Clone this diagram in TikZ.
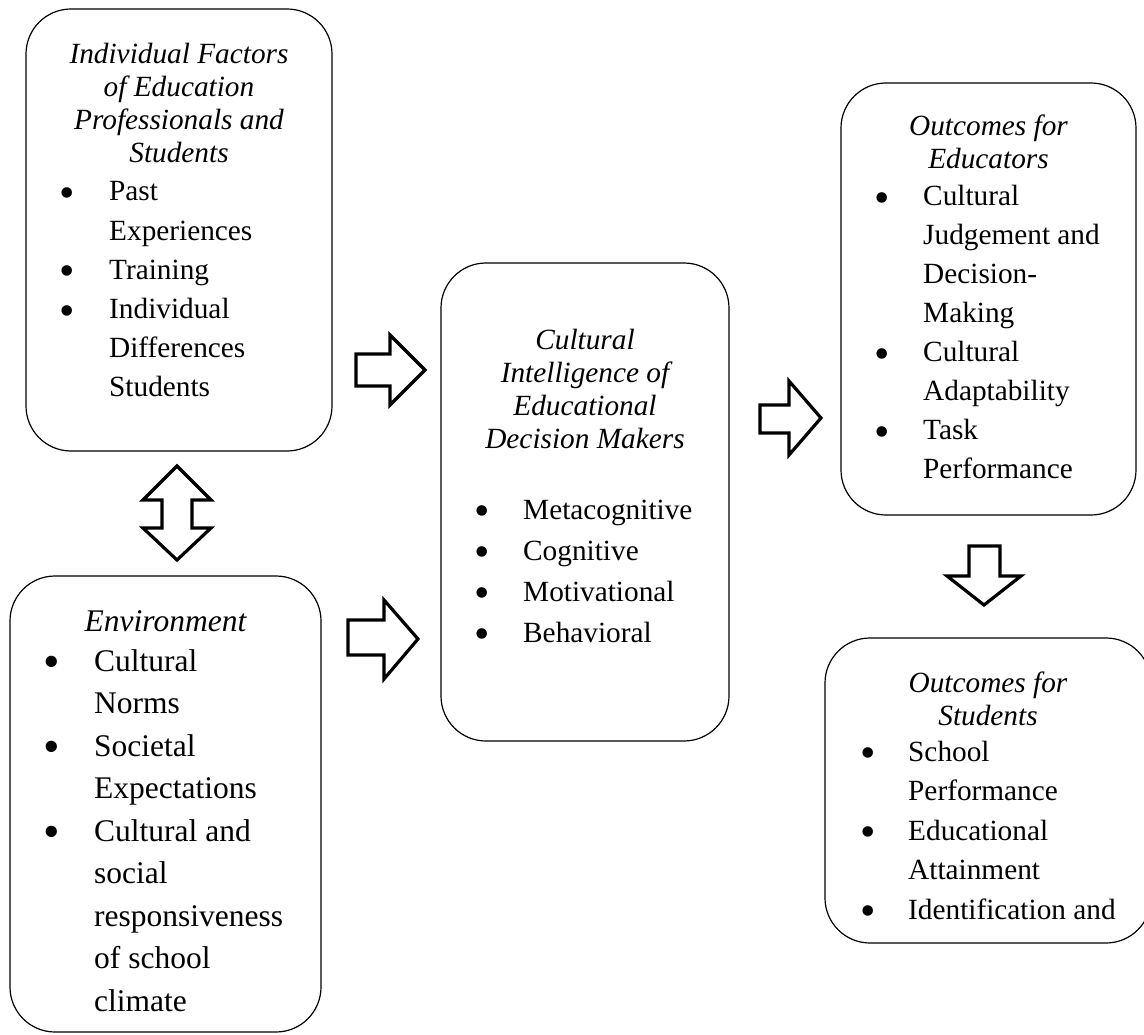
\documentclass[tikz,border=0pt]{standalone}
\usepackage{graphicx}
\usepackage{fontspec}
\setmainfont{Liberation Serif}
\newlength\mybw
\newcommand\mybul{\makebox[\mybw][c]{\raisebox{-6.5pt}{\scalebox{1.5}{\textbullet}}}}
\newcommand\myhd[1]{\parbox[t]{320pt}{\centering #1}}
\begin{document}
\begin{tikzpicture}[x=1pt,y=-1pt,
  box/.style={draw,line width=1.2pt,rounded corners=45pt,inner sep=0pt},
  blk/.style={draw,line width=3.2pt,fill=white,line join=miter},
  hd/.style={inner sep=0pt,anchor=base,font=\fontsize{29.3}{33}\selectfont\itshape},
  hdl/.style={inner sep=0pt,anchor=base,font=\fontsize{31.5}{35}\selectfont\itshape},
  lst/.style={inner sep=0pt,anchor=base west,font=\fontsize{29.3}{39.2}\selectfont},
  lstl/.style={inner sep=0pt,anchor=base west,font=\fontsize{31.5}{42.5}\selectfont}]
\useasboundingbox (0,0) rectangle (1144,1035);
\clip (0,0) rectangle (1144,1035);
\fill[white] (0,0) rectangle (1144,1035);

% boxes
\node[box,minimum width=306pt,minimum height=442pt] (indiv) at (179,230) {};
\node[box,minimum width=311pt,minimum height=456pt] (env) at (165.5,804) {};
\node[box,minimum width=288pt,minimum height=478pt] (cq) at (585,502) {};
\node[box,minimum width=295pt,minimum height=432pt] (oedu) at (988.5,299) {};
\node[box,minimum width=326pt,minimum height=305pt] (ostu) at (988,790.5) {};

% individual factors
\node[hd] (indivh) at (179,64) {\myhd{Individual Factors\\of Education\\Professionals and\\Students}};
\node[lst] (indivl) at (25,201) {\setlength\mybw{84pt}\begin{tabular}[t]{@{}l@{}l@{}}
\mybul & Past\\ & Experiences\\ \mybul & Training\\ \mybul & Individual\\ & Differences\\ & Students\end{tabular}};

% environment
\node[hdl] (envh) at (165.5,631) {Environment};
\node[lstl] (envl) at (10,671) {\setlength\mybw{84pt}\begin{tabular}[t]{@{}l@{}l@{}}
\mybul & Cultural\\ & Norms\\ \mybul & Societal\\ & Expectations\\ \mybul & Cultural and\\ & social\\ & responsiveness\\ & of school\\ & climate\end{tabular}};

% cultural intelligence
\node[hd,font=\fontsize{29.3}{33.3}\selectfont\itshape] (cqh) at (585,349) {\myhd{Cultural\\Intelligence of\\Educational\\Decision Makers}};
\node[lst,font=\fontsize{29.3}{41}\selectfont] (cql) at (441,519) {\setlength\mybw{82pt}\begin{tabular}[t]{@{}l@{}l@{}}
\mybul & Metacognitive\\ \mybul & Cognitive\\ \mybul & Motivational\\ \mybul & Behavioral\end{tabular}};

% outcomes for educators
\node[hd] (oeduh) at (988.5,136) {\myhd{Outcomes for\\Educators}};
\node[lst,font=\fontsize{29.3}{39}\selectfont] (oedul) at (841,206) {\setlength\mybw{82pt}\begin{tabular}[t]{@{}l@{}l@{}}
\mybul & Cultural\\ & Judgement and\\ & Decision-\\ & Making\\ \mybul & Cultural\\ & Adaptability\\ \mybul & Task\\ & Performance\end{tabular}};

% outcomes for students
\node[hd] (ostuh) at (988,692) {\myhd{Outcomes for\\Students}};
\node[lst,font=\fontsize{29.3}{39.5}\selectfont] (ostul) at (828,761) {\setlength\mybw{80pt}\begin{tabular}[t]{@{}l@{}l@{}}
\mybul & School\\ & Performance\\ \mybul & Educational\\ & Attainment\\ \mybul & Identification and\end{tabular}};

% block arrows
\draw[blk] (356,354) -- (390,354) -- (390,335) -- (425,370) -- (390,405) -- (390,386) -- (356,386) -- cycle;
\draw[blk] (348,620) -- (384,620) -- (384,600) -- (418,639) -- (384,679) -- (384,655) -- (348,655) -- cycle;
\draw[blk] (760,405) -- (789,405) -- (789,381) -- (821,418) -- (789,455) -- (789,433) -- (760,433) -- cycle;
\draw[blk] (177,466) -- (211,500) -- (192,500) -- (192,528) -- (211,528) -- (177,560) -- (143,528) -- (162,528) -- (162,500) -- (143,500) -- cycle;
\draw[blk] (969,546) -- (1000,546) -- (1000,576) -- (1021,576) -- (984,605) -- (947,576) -- (969,576) -- cycle;
\end{tikzpicture}
\end{document}
